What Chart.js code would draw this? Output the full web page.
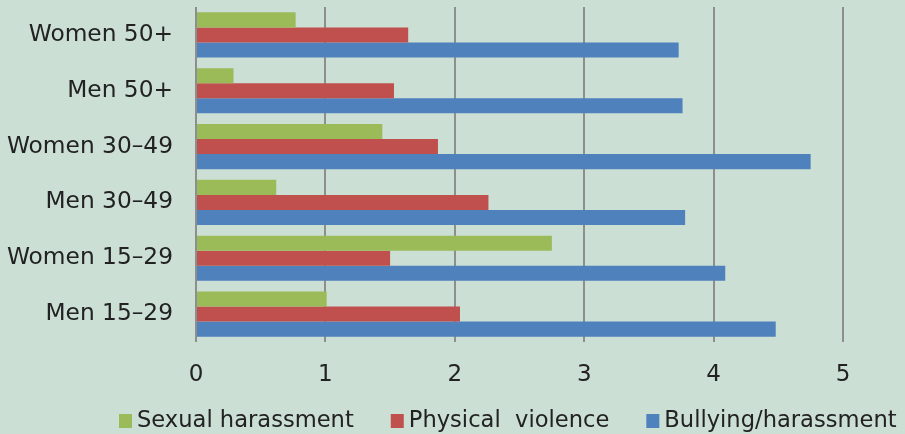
<!DOCTYPE html>
<html>
<head>
<meta charset="utf-8">
<script src="https://cdn.jsdelivr.net/npm/chart.js@4"></script>
<style>
  html, body { margin: 0; padding: 0; background: #cbdfd5; overflow: hidden; }
  #wrap { width: 905px; height: 434px; }
</style>
</head>
<body>
<div id="wrap"><canvas id="chart" width="905" height="434"></canvas></div>
<script>
// Categories listed top to bottom as they appear in the chart
const categories = ['Women 50+', 'Men 50+', 'Women 30–49', 'Men 30–49', 'Women 15–29', 'Men 15–29'];
const xTicks = [0, 1, 2, 3, 4, 5];

const sexualHarassment = [0.77, 0.29, 1.44, 0.62, 2.75, 1.01];
const physicalViolence = [1.64, 1.53, 1.87, 2.26, 1.50, 2.04];
const bullying         = [3.73, 3.76, 4.75, 3.78, 4.09, 4.48];

const FONT = 'DejaVu Sans, Verdana, sans-serif';
const TEXT = '#222222';
const GRID = '#8e8e8e';

// Legend drawn below the plot, Excel-like spacing
const bottomLegend = {
  id: 'bottomLegend',
  afterDraw(chart) {
    const ctx = chart.ctx;
    ctx.save();
    ctx.font = '22.6px ' + FONT;
    ctx.textBaseline = 'middle';
    let x = 119;
    const y = 421;
    chart.data.datasets.forEach(ds => {
      ctx.fillStyle = ds.backgroundColor;
      ctx.fillRect(x, y - 7, 13, 14);
      x += 13 + 5;
      ctx.fillStyle = TEXT;
      ctx.fillText(ds.label, x, y);
      x += ctx.measureText(ds.label).width + 37;
    });
    ctx.restore();
  }
};

new Chart(document.getElementById('chart'), {
  type: 'bar',
  data: {
    labels: categories,
    datasets: [
      { label: 'Sexual harassment', data: sexualHarassment, backgroundColor: '#9bbb59' },
      { label: 'Physical  violence', data: physicalViolence, backgroundColor: '#c0504d' },
      { label: 'Bullying/harassment', data: bullying, backgroundColor: '#4f81bd' },
    ],
  },
  options: {
    indexAxis: 'y',
    responsive: false,
    animation: false,
    layout: { padding: { top: 7, right: 62, bottom: 0, left: 0 } },
    datasets: {
      bar: { barPercentage: 1, categoryPercentage: 0.81 },
    },
    plugins: {
      legend: { display: false },
      tooltip: { enabled: false },
    },
    scales: {
      x: {
        min: 0,
        max: 5,
        afterBuildTicks: s => { s.ticks = xTicks.map(v => ({ value: v })); },
        afterFit: s => { s.height = 92; },
        border: { display: false },
        grid: { color: GRID, lineWidth: 2, drawTicks: false },
        ticks: { color: TEXT, font: { family: FONT, size: 23 }, padding: 19 },
      },
      y: {
        afterFit: s => { s.width = 196; },
        border: { display: false },
        grid: { display: false, tickLength: 23 },
        ticks: { color: TEXT, font: { family: FONT, size: 23.3, lineHeight: 0.5 }, padding: 0 },
      },
    },
  },
  plugins: [bottomLegend],
});
</script>
</body>
</html>
